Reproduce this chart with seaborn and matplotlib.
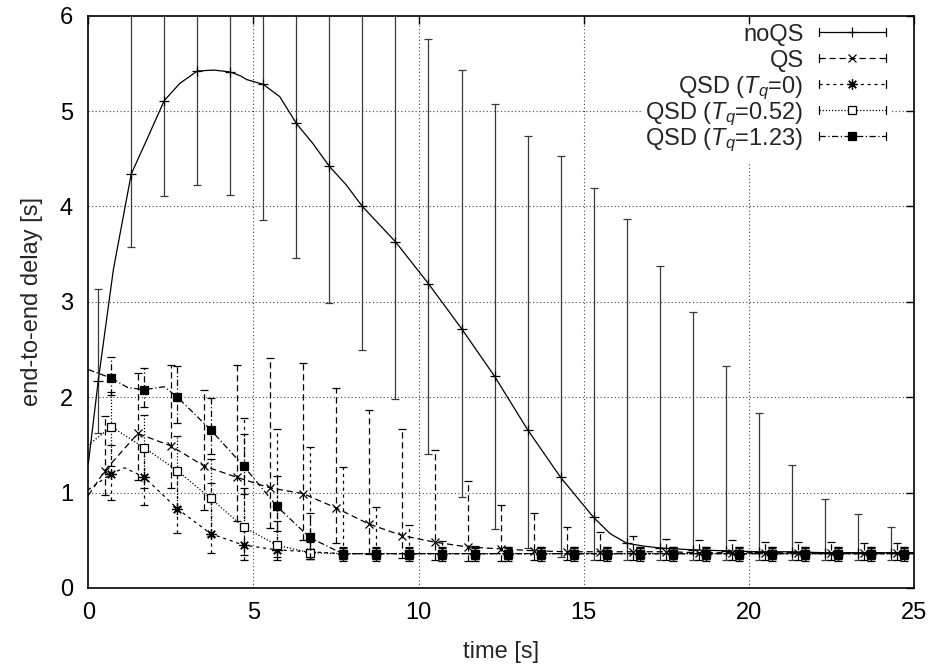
import numpy as np
import pandas as pd
import seaborn as sns
import matplotlib
matplotlib.use("Agg")
import matplotlib.pyplot as plt
from matplotlib.lines import Line2D
from matplotlib.legend_handler import HandlerLine2D

# ---------------- data ----------------
# noQS : markers / error bars every second starting at 0.3 s
noqs_t = [0.3, 1.3, 2.3, 3.3, 4.3, 5.3, 6.3, 7.3, 8.3, 9.3, 10.3, 11.3, 12.3,
          13.3, 14.3, 15.3, 16.3, 17.3, 18.3, 19.3, 20.3, 21.3, 22.3, 23.3, 24.3]
noqs_y = [2.17, 4.34, 5.11, 5.42, 5.41, 5.28, 4.87, 4.42, 4.00, 3.63, 3.19, 2.72, 2.22,
          1.66, 1.16, 0.74, 0.47, 0.42, 0.40, 0.39, 0.38, 0.38, 0.37, 0.37, 0.37]
noqs_lo = [1.62, 3.58, 4.11, 4.23, 4.12, 3.86, 3.46, 2.99, 2.50, 1.98, 1.41, 0.95, 0.62,
           0.42, 0.33, 0.29, 0.29, 0.29, 0.29, 0.29, 0.29, 0.29, 0.29, 0.29, 0.29]
noqs_hi = [3.13, 7.00, 7.50, 7.80, 7.90, 7.60, 7.20, 6.80, 6.50, 6.20, 5.76, 5.43, 5.07,
           4.74, 4.53, 4.19, 3.87, 3.38, 2.89, 2.33, 1.83, 1.29, 0.93, 0.78, 0.64]
# extra points of the noQS curve between markers
noqs_curve_t = [0.0, 0.76, 1.77, 2.77, 3.8, 4.6, 4.8, 5.8, 6.8, 7.8, 15.8, 16.8, 25.0]
noqs_curve_y = [1.30, 3.34, 4.70, 5.29, 5.43, 5.37, 5.33, 5.15, 4.66, 4.23, 0.57, 0.44, 0.37]

# QS : markers every second starting at 0.5 s
qs_t = [0.5, 1.5, 2.5, 3.5, 4.5, 5.5, 6.5, 7.5, 8.5, 9.5, 10.5, 11.5, 12.5,
        13.5, 14.5, 15.5, 16.5, 17.5, 18.5, 19.5, 20.5, 21.5, 22.5, 23.5, 24.5]
qs_y = [1.23, 1.62, 1.49, 1.28, 1.16, 1.05, 0.99, 0.84, 0.67, 0.55, 0.48, 0.43, 0.41,
        0.39, 0.38, 0.38, 0.38, 0.38, 0.37, 0.37, 0.37, 0.37, 0.37, 0.37, 0.37]
qs_lo = [0.97, 1.13, 1.05, 0.82, 0.70, 0.63, 0.50, 0.47, 0.36, 0.31, 0.29, 0.28, 0.28,
         0.29, 0.29, 0.29, 0.29, 0.29, 0.29, 0.29, 0.29, 0.29, 0.29, 0.29, 0.29]
qs_hi = [1.80, 2.25, 2.34, 2.08, 2.34, 2.41, 2.36, 2.10, 1.87, 1.67, 1.45, 1.12, 0.87,
         0.79, 0.64, 0.59, 0.55, 0.51, 0.50, 0.50, 0.48, 0.48, 0.48, 0.47, 0.47]
qs_curve_t = [0.0, 25.0]
qs_curve_y = [0.97, 0.37]

# QSD : markers every second starting at 0.7 s
qsd_t = [0.7, 1.7, 2.7, 3.7, 4.7, 5.7, 6.7, 7.7, 8.7, 9.7, 10.7, 11.7, 12.7,
         13.7, 14.7, 15.7, 16.7, 17.7, 18.7, 19.7, 20.7, 21.7, 22.7, 23.7, 24.7]

q0_y = [1.20, 1.16, 0.83, 0.57, 0.45, 0.40, 0.38, 0.36, 0.36, 0.36, 0.36, 0.36, 0.36,
        0.36, 0.36, 0.36, 0.36, 0.36, 0.36, 0.36, 0.36, 0.36, 0.36, 0.36, 0.36]
q0_lo = [0.92, 0.87, 0.58, 0.37, 0.29, 0.29, 0.30, 0.30, 0.30, 0.30, 0.30, 0.30, 0.30,
         0.30, 0.30, 0.30, 0.30, 0.30, 0.30, 0.30, 0.30, 0.30, 0.30, 0.30, 0.30]
q0_hi = [1.50, 1.45, 1.20, 1.10, 1.78, 1.67, 1.48, 1.27, 0.85, 0.66, 0.49, 0.44, 0.43,
         0.43, 0.43, 0.43, 0.43, 0.43, 0.43, 0.43, 0.43, 0.43, 0.43, 0.43, 0.43]
q0_curve_t = [0.0, 1.1, 25.0]
q0_curve_y = [1.03, 1.26, 0.36]

q52_y = [1.69, 1.47, 1.23, 0.94, 0.64, 0.45, 0.37, 0.36, 0.36, 0.36, 0.36, 0.36, 0.36,
         0.36, 0.36, 0.36, 0.36, 0.36, 0.36, 0.36, 0.36, 0.36, 0.36, 0.36, 0.36]
q52_lo = [1.28, 1.05, 0.85, 0.55, 0.35, 0.32, 0.30, 0.30, 0.30, 0.30, 0.30, 0.30, 0.30,
          0.30, 0.30, 0.30, 0.30, 0.30, 0.30, 0.30, 0.30, 0.30, 0.30, 0.30, 0.30]
q52_hi = [2.05, 1.81, 1.59, 1.35, 1.05, 0.70, 0.48, 0.42, 0.42, 0.42, 0.42, 0.42, 0.42,
          0.42, 0.42, 0.42, 0.42, 0.42, 0.42, 0.42, 0.42, 0.42, 0.42, 0.42, 0.42]
q52_curve_t = [0.0, 25.0]
q52_curve_y = [1.50, 0.36]

q123_y = [2.20, 2.08, 2.00, 1.66, 1.28, 0.86, 0.53, 0.36, 0.36, 0.36, 0.36, 0.36, 0.36,
          0.36, 0.36, 0.36, 0.36, 0.36, 0.36, 0.36, 0.36, 0.36, 0.36, 0.36, 0.36]
q123_lo = [2.02, 1.90, 1.73, 1.40, 0.99, 0.60, 0.30, 0.28, 0.28, 0.28, 0.28, 0.28, 0.28,
           0.28, 0.28, 0.28, 0.28, 0.28, 0.28, 0.28, 0.28, 0.28, 0.28, 0.28, 0.28]
q123_hi = [2.42, 2.31, 2.33, 1.99, 1.61, 1.17, 0.79, 0.43, 0.43, 0.43, 0.43, 0.43, 0.43,
           0.43, 0.43, 0.43, 0.43, 0.43, 0.43, 0.43, 0.43, 0.43, 0.43, 0.43, 0.43]
q123_curve_t = [0.0, 1.2, 2.3, 25.0]
q123_curve_y = [2.29, 2.10, 2.11, 0.36]

labels = ["noQS", "QS", "QSD ($T_q$=0)", "QSD ($T_q$=0.52)", "QSD ($T_q$=1.23)"]
x_ticks = [0, 5, 10, 15, 20, 25]
y_ticks = [0, 1, 2, 3, 4, 5, 6]

# ---------------- style ----------------
FS = 17
DPI = 100
sns.set_theme(style="white")
plt.rcParams["font.family"] = ["Liberation Sans", "DejaVu Sans"]
plt.rcParams["mathtext.fontset"] = "custom"
plt.rcParams["mathtext.rm"] = "Liberation Sans"
plt.rcParams["mathtext.it"] = "Liberation Sans:italic"
plt.rcParams["font.size"] = FS

fig = plt.figure(figsize=(9.36, 6.69), dpi=DPI)
W, H = 936, 669
L, R, T, B = 88.3, 914, 15.7, 588
ax = fig.add_axes([L / W, 1 - B / H, (R - L) / W, (B - T) / H])

series = [
    dict(t=noqs_t, y=noqs_y, lo=noqs_lo, hi=noqs_hi, ct=noqs_curve_t, cy=noqs_curve_y,
         ls="-", marker="+", ms=7.5, mfc="black", ecol="#3a3a3a"),
    dict(t=qs_t, y=qs_y, lo=qs_lo, hi=qs_hi, ct=qs_curve_t, cy=qs_curve_y,
         ls=(0, (5, 3)), marker="x", ms=6.0, mfc="black", ecol="black"),
    dict(t=qsd_t, y=q0_y, lo=q0_lo, hi=q0_hi, ct=q0_curve_t, cy=q0_curve_y,
         ls=(0, (2.5, 3)), marker=(8, 2, 0), ms=7.5, mfc="black", ecol="black"),
    dict(t=qsd_t, y=q52_y, lo=q52_lo, hi=q52_hi, ct=q52_curve_t, cy=q52_curve_y,
         ls=(0, (1, 1.5)), marker="s", ms=5.3, mfc="white", ecol="black"),
    dict(t=qsd_t, y=q123_y, lo=q123_lo, hi=q123_hi, ct=q123_curve_t, cy=q123_curve_y,
         ls=(0, (5, 2, 1, 2)), marker="s", ms=6.4, mfc="black", ecol="black"),
]

# grid lines (drawn separately so the opaque key can hide them while ticks stay on top)
for xv in x_ticks[1:-1]:
    ax.axvline(xv, linestyle=(0, (1, 2.2)), linewidth=0.8, color="#444444", zorder=0.5)
for yv in y_ticks[1:-1]:
    ax.axhline(yv, linestyle=(0, (1, 2.2)), linewidth=0.8, color="#444444", zorder=0.5)

handles = []
for i, s in enumerate(series):
    df = pd.DataFrame({"t": list(s["t"]) + list(s["ct"]),
                       "y": list(s["y"]) + list(s["cy"])}).sort_values("t")
    sns.lineplot(data=df, x="t", y="y", ax=ax, estimator=None, sort=True,
                 color="black", linewidth=0.9, linestyle=s["ls"], zorder=2 + i)
    y = np.array(s["y"])
    lo = np.array(s["lo"])
    hi = np.array(s["hi"])
    eb = ax.errorbar(s["t"], y, yerr=[y - lo, hi - y], fmt="none",
                     ecolor=s["ecol"], elinewidth=0.9, capsize=3.2, capthick=0.9,
                     zorder=2 + i)
    eb[2][0].set_linestyle(s["ls"])
    ax.plot(s["t"], y, linestyle="none", marker=s["marker"], markersize=s["ms"],
            markerfacecolor=s["mfc"], markeredgecolor="black", markeredgewidth=0.9,
            color="black", zorder=3 + i)
    handles.append(Line2D([], [], color="black", linewidth=0.9, linestyle=s["ls"],
                          marker=s["marker"], markersize=s["ms"],
                          markerfacecolor=s["mfc"], markeredgecolor="black",
                          markeredgewidth=0.9))

YC = 0.4  # key sample height above the text baseline, in font sizes


class CapHandler(HandlerLine2D):
    """Key sample: line + marker with small error-bar caps at both ends."""
    def create_artists(self, legend, orig_handle, xdescent, ydescent, width,
                       height, fontsize, trans):
        arts = super().create_artists(legend, orig_handle, xdescent, ydescent,
                                      width, height, fontsize, trans)
        yc = YC * fontsize
        for a in arts:
            a.set_ydata(np.full(len(a.get_xdata()), yc))
        for xx in (-xdescent, -xdescent + width):
            cap = Line2D([xx, xx], [yc - 3, yc + 3], color="black", linewidth=0.9,
                         transform=trans)
            arts.append(cap)
        return arts


# key layout: equal row pitch obtained from a tall handle box + negative spacing
HH = 2.5
BP = 0.15
ROW_PX = 26.0
ROW1_PX = 32.0                      # y pixel of first key sample
px_per_pt = DPI / 72
hb_desc = 0.35 * FS * (HH - 0.7)
hb_height = FS * HH - hb_desc        # total row height (pt)
hb_asc = hb_height - hb_desc
sep_pt = ROW_PX / px_per_pt - hb_height
top_px = ROW1_PX + YC * FS * px_per_pt - hb_asc * px_per_pt - BP * FS * px_per_pt
right_px = 886 + BP * FS * px_per_pt
anchor = ((right_px - L) / (R - L), (B - top_px) / (B - T))

leg = ax.legend(handles, labels, loc="upper right", bbox_to_anchor=anchor,
                markerfirst=False, frameon=True, framealpha=1, facecolor="white",
                edgecolor="none", fancybox=False, borderpad=BP, borderaxespad=0,
                handlelength=2.85, handletextpad=0.64, handleheight=HH,
                labelspacing=sep_pt / FS,
                fontsize=FS, numpoints=1, handler_map={Line2D: CapHandler()})
leg.set_zorder(20)

ax.set_xlim(0, 25)
ax.set_ylim(0, 6)
ax.set_xticks(x_ticks)
ax.set_yticks(y_ticks)
ax.set_xlabel("time [s]", fontsize=FS, labelpad=12)
ax.set_ylabel("end-to-end delay [s]", fontsize=FS, labelpad=12)
ax.tick_params(direction="in", length=5.5, width=1, top=True, right=True,
               labelsize=FS, colors="black")
ax.tick_params(axis="x", pad=10)
ax.tick_params(axis="y", pad=11)
ax.grid(False)
ax.xaxis.set_zorder(30)
ax.yaxis.set_zorder(30)
for sp in ax.spines.values():
    sp.set_linewidth(1.2)
    sp.set_color("black")
    sp.set_zorder(30)

fig.savefig("out.png", dpi=DPI)
